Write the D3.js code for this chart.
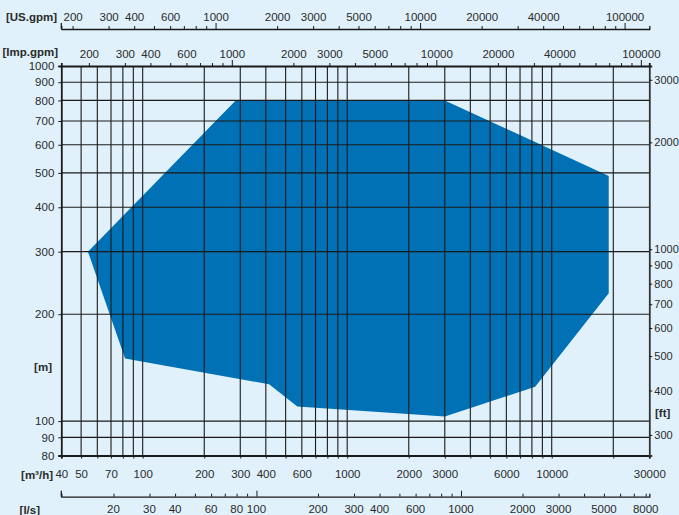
<!DOCTYPE html>
<html>
<head>
<meta charset="utf-8">
<script src="https://cdn.jsdelivr.net/npm/d3@7"></script>
<style>
  html, body { margin: 0; padding: 0; background: #e0f1fb; }
  svg { display: block; }
  text { font-family: "Liberation Sans", Arial, Helvetica, sans-serif; fill: #2a2a2a; }
</style>
</head>
<body>
<svg id="chart" width="679" height="515"></svg>
<script>
// ---------- data ----------
const envelopeFlow = [54, 285, 3000, 19000, 19000, 8300, 3000, 570, 415, 82];   // m³/h
const envelopeHead = [300, 800, 800, 490, 229, 125, 103, 110, 127, 150];        // m

const m3hTicks  = [40,50,60,70,80,90,100,200,300,400,500,600,700,800,900,1000,2000,3000,4000,5000,6000,7000,8000,9000,10000,20000,30000];
const m3hLabels = [40,50,70,100,200,300,400,600,1000,2000,3000,6000,10000,30000];
const gridFlow  = [50,60,70,80,90,100,200,300,400,500,600,700,800,900,1000,2000,3000,4000,5000,6000,7000,8000,9000,10000,20000];

const headTicks = [80,90,100,200,300,400,500,600,700,800,900,1000];
const gridHead  = [90,100,200,300,400,500,600,700,800,900];

const ftTicks   = [300,400,500,600,700,800,900,1000,2000,3000];

const gpmTicks  = [200,300,400,500,600,700,800,900,1000,2000,3000,4000,5000,6000,7000,8000,9000,10000,20000,30000,40000,50000,60000,70000,80000,90000,100000];
const gpmLabels = [200,300,400,600,1000,2000,3000,5000,10000,20000,40000,100000];
const impTicks  = gpmTicks;
const impLabels = gpmLabels;

const lsTicks   = [20,30,40,50,60,70,80,90,100,200,300,400,500,600,700,800,900,1000,2000,3000,4000,5000,6000,7000,8000];
const lsLabels  = [20,30,40,60,80,100,200,300,400,600,1000,2000,3000,5000,8000];

const US_GPM = 4.4029, IMP_GPM = 3.6661, LS = 1/3.6, FT = 1/0.3048;

// ---------- scales ----------
const X0 = 61.3, X1 = 649.3, Y0 = 455.5, Y1 = 66;
const x = d3.scaleLog().domain([40, 30000]).range([X0, X1]);
const y = d3.scaleLog().domain([80, 1000]).range([Y0, Y1]);
const xUS  = d3.scaleLog().domain([40*US_GPM, 30000*US_GPM]).range([X0, X1]);
const xImp = d3.scaleLog().domain([40*IMP_GPM, 30000*IMP_GPM]).range([X0, X1]);
const xLs  = d3.scaleLog().domain([40*LS, 30000*LS]).range([X0, X1]);
const yFt  = d3.scaleLog().domain([80*FT, 1000*FT]).range([Y0, Y1]);

const FS = 11.5;
const svg = d3.select("#chart");
svg.append("rect").attr("width", 679).attr("height", 515).attr("fill", "#e0f1fb");

// ---------- envelope ----------
const pts = envelopeFlow.map((f, i) => [x(f), y(envelopeHead[i])]);
svg.append("path")
  .attr("d", d3.line()(pts) + "Z")
  .attr("fill", "#0071b5");

// ---------- grid ----------
const grid = svg.append("g").attr("stroke", "#1a1a1a").attr("stroke-width", 1.1);
grid.selectAll("line.v").data(gridFlow).join("line")
  .attr("x1", d => x(d)).attr("x2", d => x(d))
  .attr("y1", Y1).attr("y2", Y0);
grid.selectAll("line.h").data(gridHead).join("line")
  .attr("x1", X0).attr("x2", X1)
  .attr("y1", d => y(d)).attr("y2", d => y(d));

// ---------- axes ----------
const fmt = d => String(d);
function tickValuesFilter(labels) { return d => labels.includes(d) ? fmt(d) : ""; }

// bottom m³/h (plot border)
const axB = d3.axisBottom(x).tickValues(m3hTicks).tickFormat(tickValuesFilter(m3hLabels)).tickSize(3).tickPadding(11);
const gB = svg.append("g").attr("transform", `translate(0,${Y0})`).call(axB);

// left m
const axL = d3.axisLeft(y).tickValues(headTicks).tickFormat(fmt).tickSize(3).tickPadding(4);
const gL = svg.append("g").attr("transform", `translate(${X0},0)`).call(axL);

// right ft
const axR = d3.axisRight(yFt).tickValues(ftTicks).tickFormat(fmt).tickSize(3).tickPadding(2);
const gR = svg.append("g").attr("transform", `translate(${X1},0)`).call(axR);

// top imp gpm (plot border)
const axT2 = d3.axisTop(xImp).tickValues(impTicks).tickFormat(tickValuesFilter(impLabels))
  .tickSize(3).tickPadding(5);
const gT2 = svg.append("g").attr("transform", `translate(0,${Y1})`).call(axT2);

// top US gpm
const yUS = 29;
const axT1 = d3.axisTop(xUS).tickValues(gpmTicks).tickFormat(tickValuesFilter(gpmLabels))
  .tickSize(3).tickPadding(5);
const gT1 = svg.append("g").attr("transform", `translate(0,${yUS})`).call(axT1);

// bottom l/s
const yLS = 496.7;
const axLs = d3.axisTop(xLs).tickValues(lsTicks).tickFormat(() => "").tickSize(3);
const gLs = svg.append("g").attr("transform", `translate(0,${yLS})`).call(axLs);
gLs.selectAll(".lslab").data(lsLabels).join("text")
  .attr("x", d => xLs(d)).attr("y", 16.5).attr("text-anchor", "middle").text(fmt);

// style axes
[gB, gL, gR, gT1, gT2, gLs].forEach(g => {
  g.select(".domain").attr("stroke", "#1a1a1a").attr("stroke-width", 1.8);
  g.selectAll(".tick line").attr("stroke", "#1a1a1a").attr("stroke-width", 1);
  g.selectAll("text").attr("font-size", FS).attr("fill", "#2a2a2a")
    .style("font-family", '"Liberation Sans", Arial, sans-serif');
});
gR.selectAll("text").attr("font-size", 11);
gT1.select(".domain").attr("stroke-width", 1.3);
gLs.select(".domain").attr("stroke-width", 1.3);
gR.select(".domain").attr("stroke", "#333");
// longer ticks at decades on secondary scales
[[gT1, [1000,10000,100000]], [gT2, [1000,10000,100000]], [gLs, [100,1000]]].forEach(([g, vals]) => {
  g.selectAll(".tick").filter(d => vals.includes(d)).select("line").attr("y2", -6);
});
// end ticks
[[gT1, yUS], [gLs, yLS]].forEach(([g, yy]) => {
  svg.append("line").attr("x1", X0).attr("x2", X0).attr("y1", yy - 6).attr("y2", yy)
    .attr("stroke", "#1a1a1a").attr("stroke-width", 1.3);
});

// ---------- unit labels ----------
const unit = (t, xx, yy, anchor) => svg.append("text").attr("x", xx).attr("y", yy)
  .attr("text-anchor", anchor).attr("font-size", FS).attr("font-weight", "bold")
  .attr("fill", "#111").text(t);
unit("[US.gpm]", 57, 21, "end");
unit("[Imp.gpm]", 58, 56, "end");
unit("[m]", 52, 371, "end");
unit("[ft]", 655, 417, "start");
unit("[m³/h]", 53, 479, "end");
unit("[l/s]", 40, 514, "end");
</script>
</body>
</html>
